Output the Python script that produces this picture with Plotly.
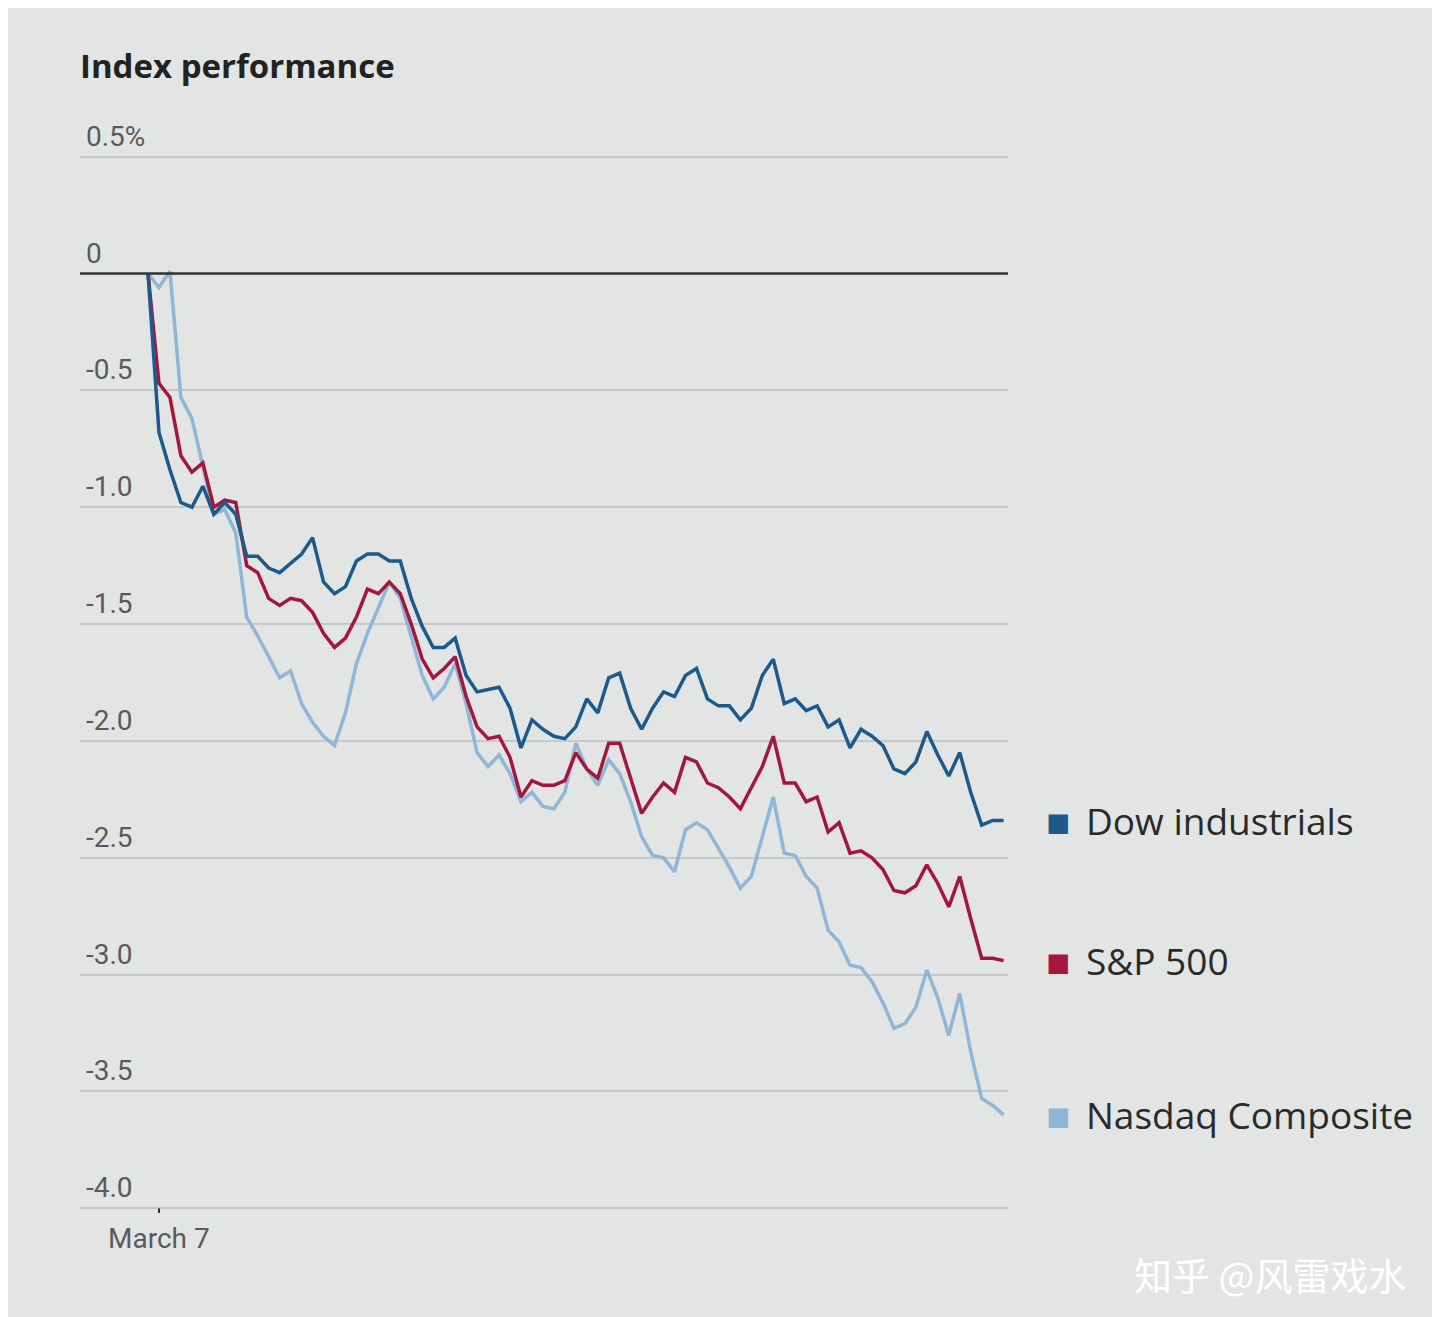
import pandas as pd
import plotly.graph_objects as go

# percent change vs. previous close, 5-minute samples from the open
dow = [0, -0.68, -0.84, -0.98, -1.00, -0.91, -1.03, -0.98, -1.03, -1.21, -1.21, -1.26, -1.28, -1.24,
       -1.20, -1.13, -1.32, -1.37, -1.34, -1.23, -1.20, -1.20, -1.23, -1.23, -1.39, -1.51, -1.60, -1.60,
       -1.56, -1.72, -1.79, -1.78, -1.77, -1.86, -2.03, -1.91, -1.95, -1.98, -1.99, -1.94, -1.82, -1.88,
       -1.73, -1.71, -1.86, -1.95, -1.86, -1.79, -1.81, -1.72, -1.69, -1.82, -1.85, -1.85, -1.91, -1.86,
       -1.72, -1.65, -1.84, -1.82, -1.87, -1.85, -1.94, -1.91, -2.03, -1.95, -1.98, -2.02, -2.12, -2.14,
       -2.09, -1.96, -2.06, -2.15, -2.05, -2.22, -2.36, -2.34, -2.34]
sp500 = [0, -0.47, -0.53, -0.78, -0.85, -0.81, -1.00, -0.97, -0.98, -1.25, -1.28, -1.39, -1.42, -1.39,
         -1.40, -1.45, -1.54, -1.60, -1.56, -1.47, -1.35, -1.37, -1.32, -1.37, -1.50, -1.65, -1.73, -1.69,
         -1.64, -1.81, -1.94, -1.99, -1.98, -2.07, -2.24, -2.17, -2.19, -2.19, -2.17, -2.05, -2.12, -2.16,
         -2.01, -2.01, -2.16, -2.31, -2.24, -2.18, -2.22, -2.07, -2.09, -2.18, -2.20, -2.24, -2.29, -2.20,
         -2.11, -1.98, -2.18, -2.18, -2.26, -2.24, -2.39, -2.35, -2.48, -2.47, -2.50, -2.55, -2.64, -2.65,
         -2.62, -2.53, -2.61, -2.71, -2.58, -2.76, -2.93, -2.93, -2.94]
nasdaq = [0, -0.06, 0.01, -0.53, -0.62, -0.83, -1.03, -1.01, -1.11, -1.47, -1.55, -1.64, -1.73, -1.70,
          -1.84, -1.92, -1.98, -2.02, -1.88, -1.67, -1.54, -1.43, -1.32, -1.39, -1.56, -1.72, -1.82, -1.77,
          -1.67, -1.84, -2.05, -2.11, -2.06, -2.14, -2.26, -2.22, -2.28, -2.29, -2.22, -2.01, -2.12, -2.19,
          -2.08, -2.14, -2.26, -2.41, -2.49, -2.50, -2.56, -2.38, -2.35, -2.38, -2.46, -2.54, -2.63, -2.58,
          -2.41, -2.24, -2.48, -2.49, -2.58, -2.63, -2.81, -2.86, -2.96, -2.97, -3.03, -3.12, -3.23, -3.21,
          -3.14, -2.98, -3.10, -3.26, -3.08, -3.33, -3.53, -3.56, -3.60]

y_ticks = [0.5, 0, -0.5, -1.0, -1.5, -2.0, -2.5, -3.0, -3.5, -4.0]
y_labels = ["0.5%", "0", "-0.5", "-1.0", "-1.5", "-2.0", "-2.5", "-3.0", "-3.5", "-4.0"]

series = [
    ("Nasdaq Composite", nasdaq, "#8fb6d6"),
    ("S&P 500", sp500, "#a3173f"),
    ("Dow industrials", dow, "#1d5a8c"),
]

FONT = "Liberation Sans Narrow, Roboto, sans-serif"
fig = go.Figure()

for name, vals, color in series:
    t = pd.date_range("2022-03-07 09:30", periods=len(vals), freq="5min")
    fig.add_trace(go.Scatter(x=t, y=vals, mode="lines", name=name,
                             line=dict(color=color, width=3.5)))
    # legend square + label at the series' last value
    fig.add_annotation(x=1.0, xref="paper", y=vals[-1], xanchor="left", yanchor="middle",
                       xshift=36, showarrow=False, text="■",
                       font=dict(size=40, color=color))
    fig.add_annotation(x=1.0, xref="paper", y=vals[-1], xanchor="left", yanchor="middle",
                       xshift=76, showarrow=False, text=name,
                       font=dict(size=37, color="#2a2a2a", family="Open Sans, sans-serif"))

for v, lab in zip(y_ticks, y_labels):
    fig.add_annotation(x=0, xref="paper", y=v, xanchor="left", yanchor="bottom",
                       xshift=4, yshift=2, showarrow=False, text=lab,
                       font=dict(size=28, color="#5a5a5a", family=FONT))

fig.add_hline(y=0, line_color="#333333", line_width=2.5)

t0 = pd.Timestamp("2022-03-07 09:35")
fig.add_shape(type="line", x0=t0, x1=t0, y0=-4.0, y1=-4.03, line=dict(color="#333333", width=2))
fig.add_annotation(x=t0, y=-4.0, yanchor="top", yshift=-12,
                   showarrow=False, text="March 7",
                   font=dict(size=28, color="#5a5a5a", family=FONT))

fig.update_layout(
    width=1440, height=1317,
    paper_bgcolor="#e3e5e5", plot_bgcolor="#e3e5e5",
    margin=dict(l=72, r=440, t=144, b=112),
    showlegend=False,
    title=dict(text="<b>Index performance</b>", x=72 / 1440, xanchor="left", y=1 - 58 / 1317,
               yanchor="middle", font=dict(size=33, color="#222222", family="Open Sans, sans-serif")),
    xaxis=dict(range=[pd.Timestamp("2022-03-07 08:59"), pd.Timestamp("2022-03-07 16:02")],
               showgrid=False, showticklabels=False, zeroline=False, showline=False),
    yaxis=dict(range=[-4.02, 0.52], tickvals=y_ticks, showticklabels=False,
               gridcolor="#c6c9ca", gridwidth=1.5, zeroline=False, showline=False),
)

fig.add_annotation(x=1, y=0, xref="paper", yref="paper", xanchor="right", yanchor="bottom",
                   xshift=400, yshift=-90, showarrow=False, text="知乎 @风雷戏水",
                   font=dict(size=38, color="white", family="Noto Sans CJK SC"))

fig.write_html("out.html")
